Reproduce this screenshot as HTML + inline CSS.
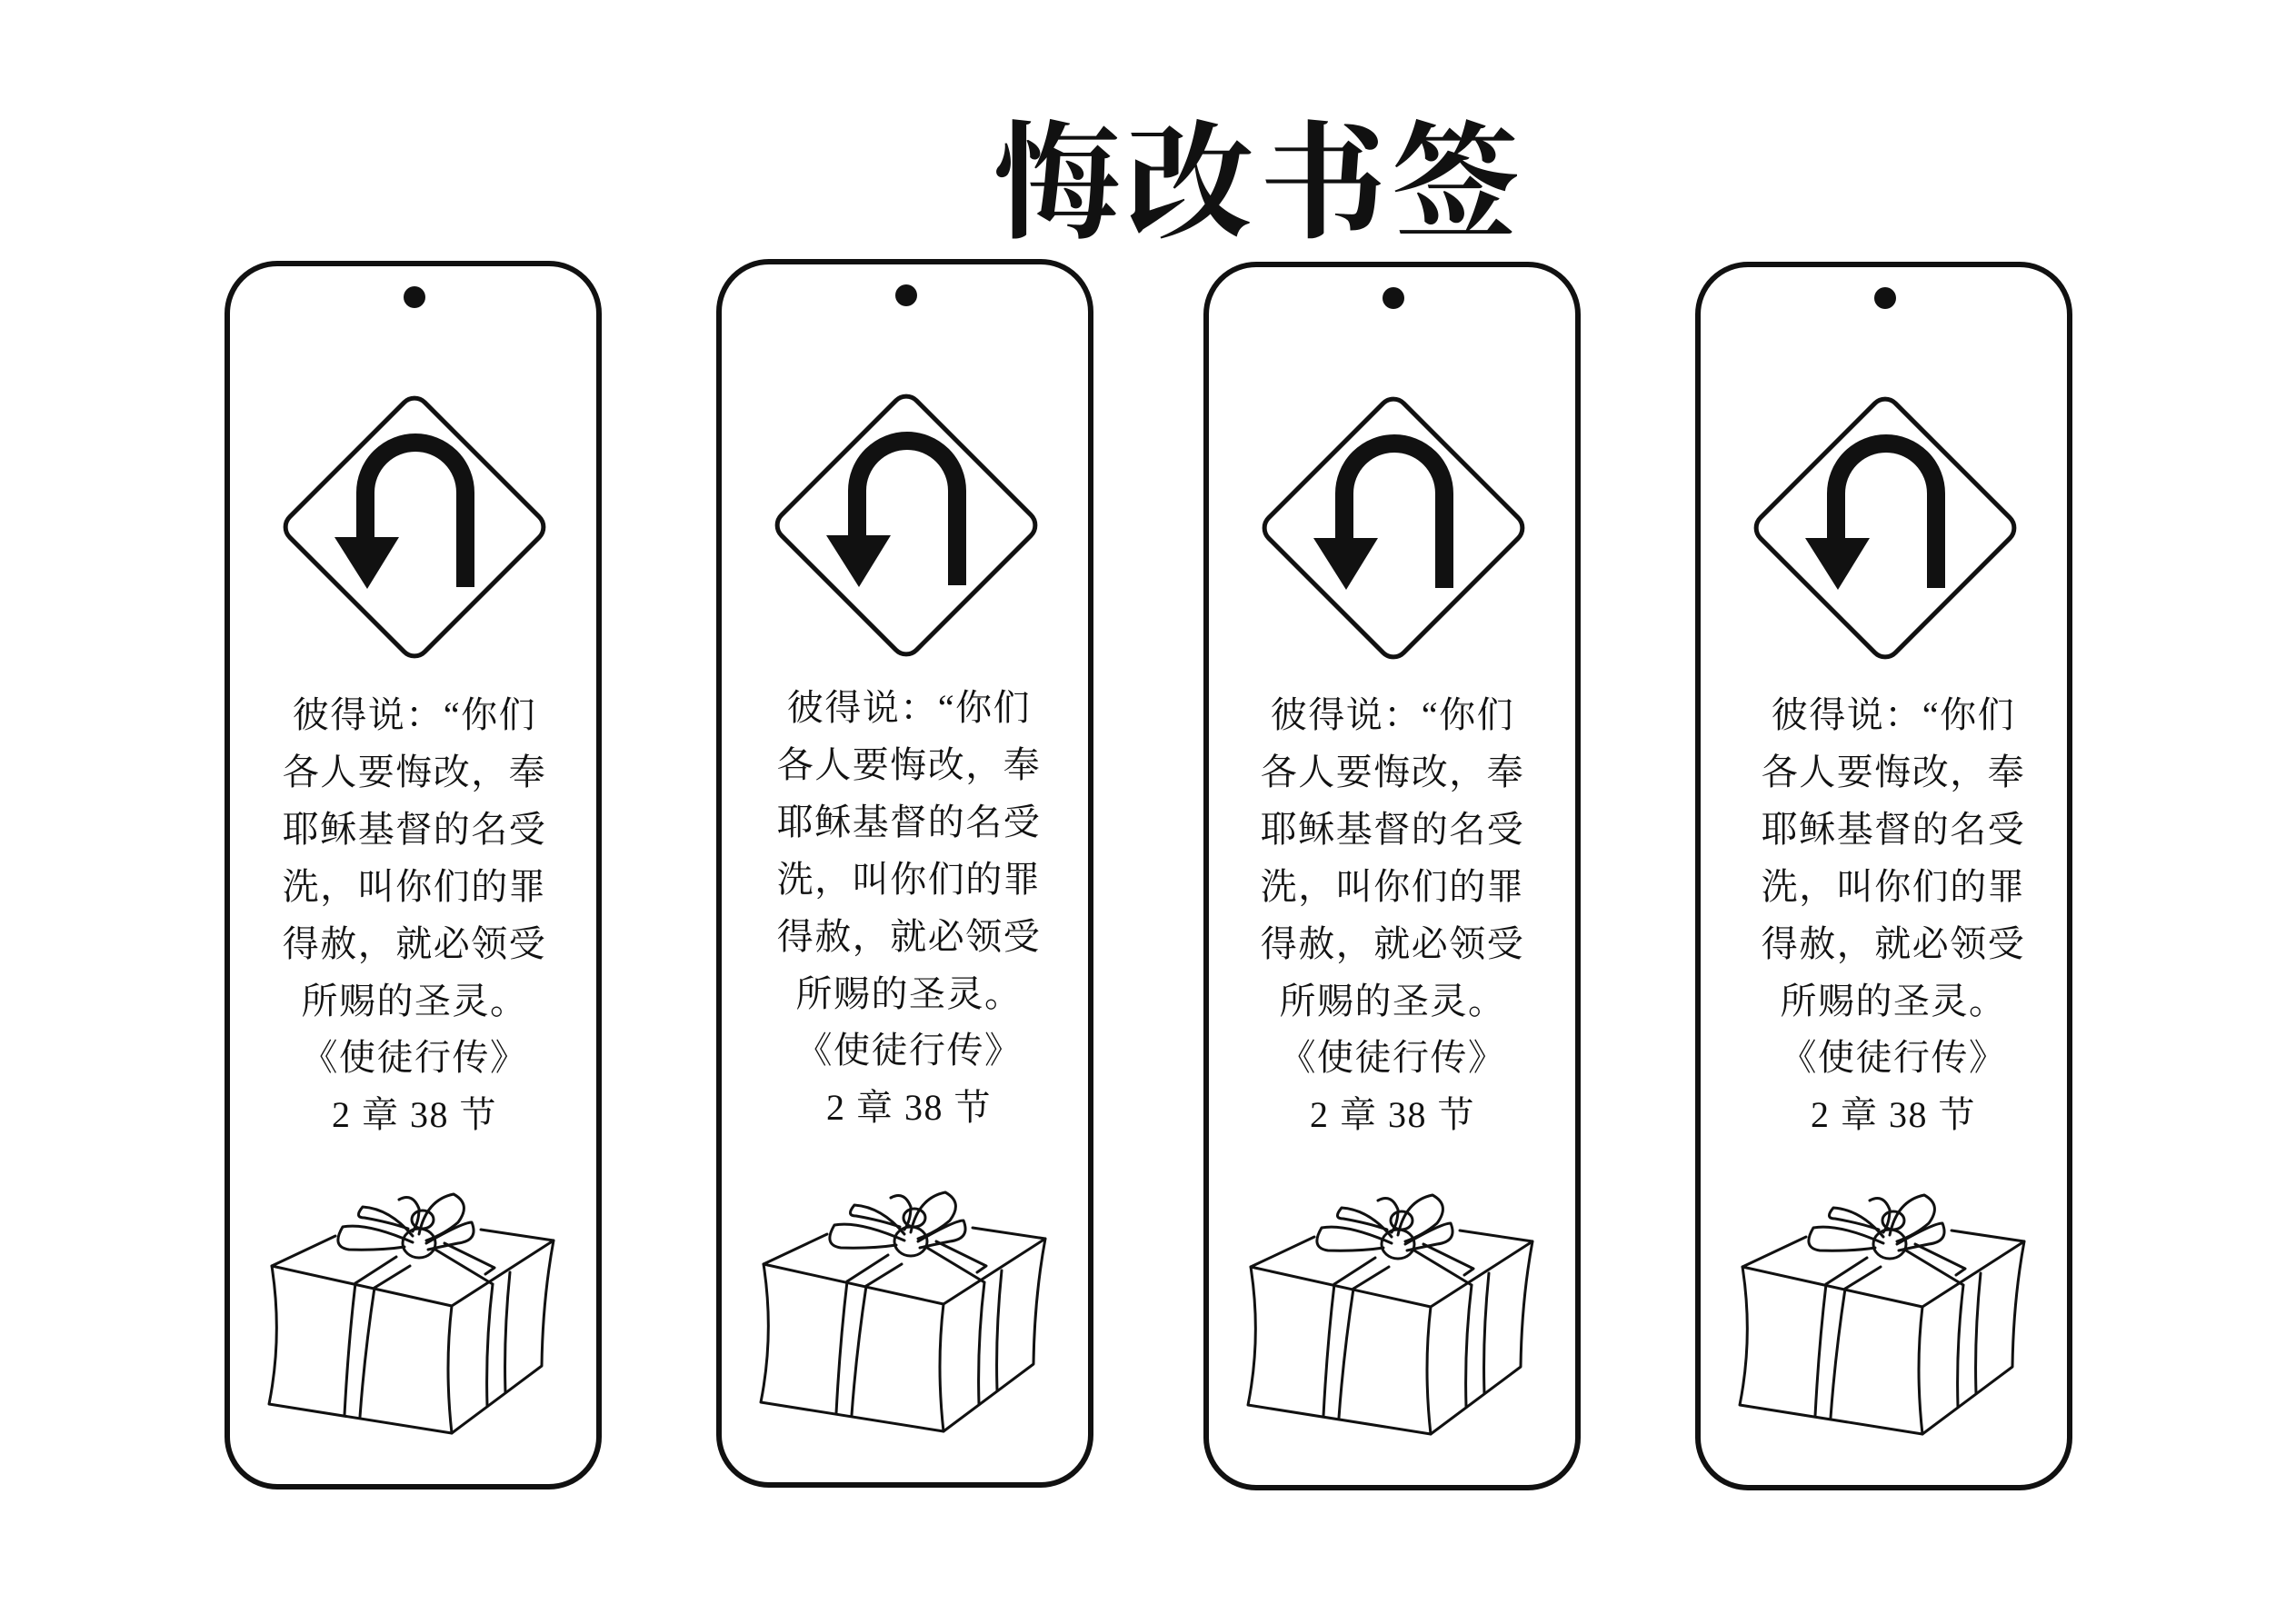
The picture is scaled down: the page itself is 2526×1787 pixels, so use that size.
<!DOCTYPE html>
<html><head><meta charset="utf-8"><style>
html,body{margin:0;padding:0;background:#fff;}
svg{display:block;}
text{font-family:"Liberation Serif","Noto Serif CJK SC",serif;fill:#111;}
</style></head><body>
<svg width="2526" height="1787" viewBox="0 0 2526 1787" xmlns="http://www.w3.org/2000/svg">
<defs>
<g id="card" fill="none" stroke="#111">
  <rect x="251" y="290" width="409" height="1346" rx="55" stroke-width="6"/>
  <circle cx="457" cy="327" r="12" fill="#111" stroke="none"/>
  <rect x="352" y="475" width="210" height="210" rx="16" stroke-width="5" transform="rotate(45 457 580)"/>
  <path d="M513 646 L513 542 A55 55 0 0 0 403 542 L403 600" stroke-width="20"/>
  <polygon points="369,591 440,591 405,648" fill="#111" stroke="none"/>
  <g stroke-width="3" stroke-linejoin="round" stroke-linecap="round">
    <path d="M300 1393 Q312 1470 297 1545 L498 1577 Q490 1505 498 1437 Z"/>
    <path d="M498 1437 L610 1365 Q598 1430 597 1503 L498 1577"/>
    <path d="M300 1393 L370 1360"/>
    <path d="M530 1353 L610 1365"/>
    <path d="M392 1412 Q384 1480 380 1557 M413 1417 Q402 1490 397 1559"/>
    <path d="M543 1413 Q535 1480 537 1547 M562 1400 Q555 1470 557 1532"/>
    <path d="M392 1412 L437 1383 M413 1417 L452 1393"/>
    <path d="M480 1375 L543 1413 M490 1368 L545 1395 L535 1402"/>
    <path d="M455 1367 Q405 1345 378 1350 Q365 1372 385 1375 Q420 1376 446 1372"/>
    <path d="M455 1360 Q430 1330 400 1328 Q390 1340 402 1340 Q430 1345 450 1352"/>
    <path d="M462 1358 Q470 1320 500 1314 Q520 1325 505 1345 Q490 1358 470 1365"/>
    <path d="M470 1368 Q510 1345 520 1345 Q528 1365 505 1368 Q485 1372 472 1375"/>
    <path d="M440 1320 Q455 1312 462 1330 Q462 1345 455 1355"/>
    <ellipse cx="462" cy="1368" rx="18" ry="16"/>
    <ellipse cx="466" cy="1342" rx="12" ry="10"/>
  </g>
</g>
</defs>
<text x="1385" y="250" font-size="140" font-weight="bold" text-anchor="middle" letter-spacing="6" style="font-family:'Noto Serif CJK SC',serif">悔改书签</text>

<use href="#card" transform="translate(-1,0)"/>
<use href="#card" transform="translate(540,-2)"/>
<use href="#card" transform="translate(1076,1)"/>
<use href="#card" transform="translate(1617,1)"/>

<g font-size="40" letter-spacing="1.5" text-anchor="middle">
<g transform="translate(0,0)">
<text x="456" y="800">彼得说：“你们</text>
<text x="456" y="863">各人要悔改，奉</text>
<text x="456" y="926">耶稣基督的名受</text>
<text x="456" y="989">洗，叫你们的罪</text>
<text x="456" y="1052">得赦，就必领受</text>
<text x="456" y="1115">所赐的圣灵。</text>
<text x="456" y="1177">《使徒行传》</text>
<text x="456" y="1240">2 章 38 节</text>
</g>
<g transform="translate(544,-8)">
<text x="456" y="800">彼得说：“你们</text>
<text x="456" y="863">各人要悔改，奉</text>
<text x="456" y="926">耶稣基督的名受</text>
<text x="456" y="989">洗，叫你们的罪</text>
<text x="456" y="1052">得赦，就必领受</text>
<text x="456" y="1115">所赐的圣灵。</text>
<text x="456" y="1177">《使徒行传》</text>
<text x="456" y="1240">2 章 38 节</text>
</g>
<g transform="translate(1076,0)">
<text x="456" y="800">彼得说：“你们</text>
<text x="456" y="863">各人要悔改，奉</text>
<text x="456" y="926">耶稣基督的名受</text>
<text x="456" y="989">洗，叫你们的罪</text>
<text x="456" y="1052">得赦，就必领受</text>
<text x="456" y="1115">所赐的圣灵。</text>
<text x="456" y="1177">《使徒行传》</text>
<text x="456" y="1240">2 章 38 节</text>
</g>
<g transform="translate(1627,0)">
<text x="456" y="800">彼得说：“你们</text>
<text x="456" y="863">各人要悔改，奉</text>
<text x="456" y="926">耶稣基督的名受</text>
<text x="456" y="989">洗，叫你们的罪</text>
<text x="456" y="1052">得赦，就必领受</text>
<text x="456" y="1115">所赐的圣灵。</text>
<text x="456" y="1177">《使徒行传》</text>
<text x="456" y="1240">2 章 38 节</text>
</g>
</g>
</svg>
</body></html>
